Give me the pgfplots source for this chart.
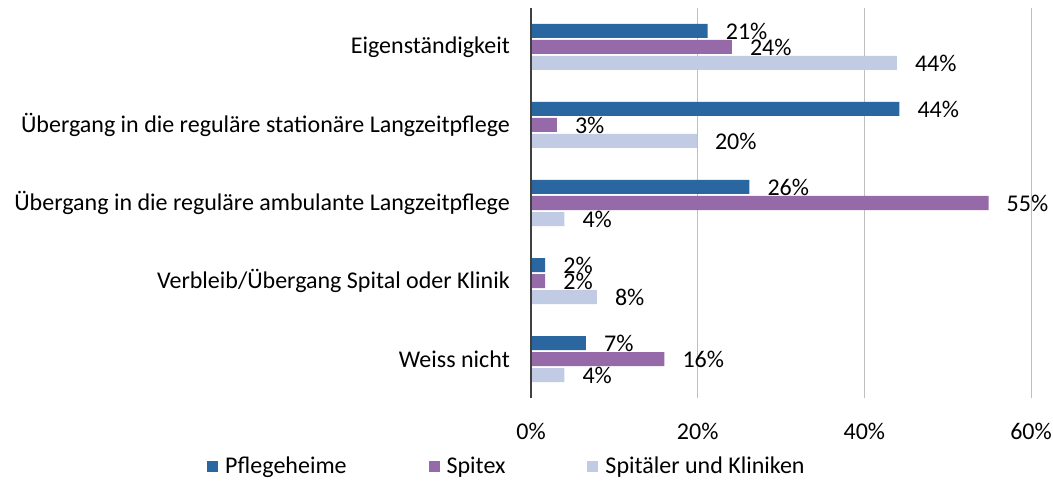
\documentclass[border=0pt]{standalone}
\usepackage{pgfplots}
\pgfplotsset{compat=1.18}
\usepackage{fontspec}
\setmainfont{Carlito}
\definecolor{cA}{HTML}{2A66A0}
\definecolor{cB}{HTML}{9669A8}
\definecolor{cC}{HTML}{C1CBE3}
\definecolor{gridc}{HTML}{BFBFBF}
\newcommand{\lfont}{\fontsize{24}{28}\selectfont}
\pgfplotsset{
  sqlegend/.style={legend image code/.code={\fill[##1] (0pt,-5.5pt) rectangle (11pt,5.5pt);}}
}
\begin{document}
\begin{tikzpicture}
\path[use as bounding box] (0,0) rectangle (1053pt,480pt);
\begin{axis}[
  at={(531pt,82pt)}, anchor=south west,
  scale only axis, width=500pt, height=390pt,
  xbar, bar width=14pt,
  xmin=0, xmax=60, ymin=-0.5, ymax=4.5,
  clip=false,
  /pgf/number format/assume math mode=true,
  xtick={0,20,40,60}, xticklabels={0\%,20\%,40\%,60\%},
  ytick={0,1,2,3,4},
  yticklabels={Weiss nicht, Verbleib/Übergang Spital oder Klinik, Übergang in die reguläre ambulante Langzeitpflege, Übergang in die reguläre stationäre Langzeitpflege, Eigenständigkeit},
  major tick length=0pt,
  axis line style={draw=none},
  xmajorgrids, grid style={gridc, line width=1pt},
  tick label style={font=\lfont, inner sep=0pt},
  yticklabel style={anchor=east, xshift=-21pt},
  xticklabel style={anchor=north, yshift=-25pt},
  point meta=x,
  nodes near coords={\pgfmathprintnumber[fixed,precision=0,assume math mode=true]{\pgfplotspointmeta}\%},
  every node near coord/.append style={anchor=west, xshift=18pt, inner sep=0pt, font=\lfont, text=black},
  legend columns=3,
  legend style={at={(-0.648,-0.1744)}, anchor=west, draw=none, fill=none, inner sep=0pt,
    font=\lfont, nodes={inner sep=0pt, anchor=west},
    /tikz/every odd column/.append style={column sep=7pt},
    /tikz/every even column/.append style={column sep=82pt}},
]
\addplot[fill=cA, draw=none, bar shift=16pt, sqlegend] coordinates {(6.6,0) (1.7,1) (26.2,2) (44.2,3) (21.2,4)};
\addplot[fill=cB, draw=none, bar shift=0pt, sqlegend] coordinates {(16,0) (1.7,1) (54.9,2) (3.1,3) (24.1,4)};
\addplot[fill=cC, draw=none, bar shift=-16pt, sqlegend] coordinates {(4,0) (7.9,1) (4,2) (19.9,3) (43.9,4)};
\legend{Pflegeheime, Spitex, Spitäler und Kliniken}
\draw[black!75, line width=1.2pt] (axis cs:0,-0.5) -- (axis cs:0,4.5);
\end{axis}
\end{tikzpicture}
\end{document}
